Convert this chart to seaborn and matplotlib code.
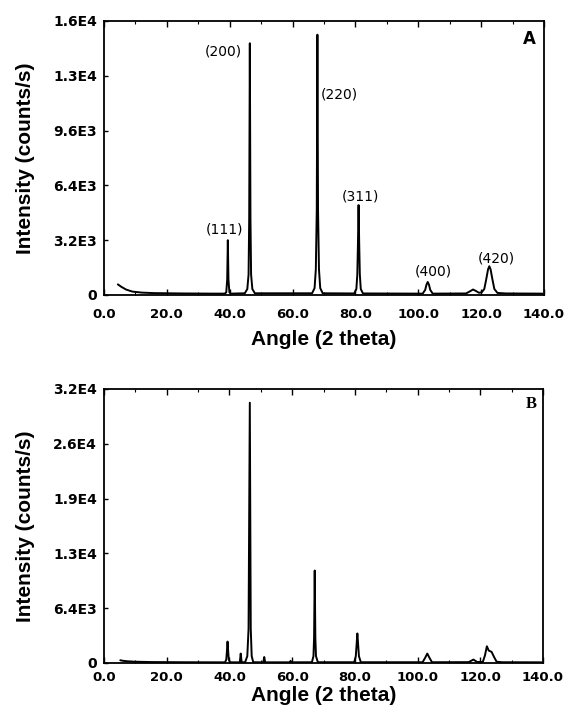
import matplotlib
matplotlib.use("Agg")
import matplotlib.pyplot as plt
import seaborn as sns
import pandas as pd

# ---- Panel A: diffractogram (angle in 2 theta, intensity in counts/s) ----
angle_a = [4.4, 5.5, 7.0, 9.0, 12.0, 16.0, 25.0, 35.0,
           38.4, 38.9, 39.2, 39.4, 39.6, 39.9, 40.4,
           44.8, 45.6, 46.0, 46.2, 46.4, 46.6, 46.8, 47.2, 48.0,
           66.2, 67.0, 67.4, 67.7, 67.9, 68.1, 68.4, 68.8, 69.6,
           79.6, 80.3, 80.6, 80.8, 81.0, 81.2, 81.4, 81.7, 82.4,
           101.4, 102.2, 102.6, 103.0, 103.4, 103.8, 104.6,
           115.2, 116.5, 117.4, 118.2, 119.3, 120.2,
           121.0, 121.6, 122.2, 122.6, 123.0, 123.6, 124.2, 125.2, 128.0, 139.5]
counts_a = [620, 480, 320, 200, 140, 110, 90, 80,
            80, 150, 900, 3200, 900, 150, 80,
            100, 350, 1200, 4500, 14700, 4500, 1200, 350, 100,
            100, 400, 1500, 5000, 15200, 5000, 1500, 400, 100,
            90, 350, 1200, 3000, 5250, 3000, 1200, 350, 90,
            80, 300, 600, 760, 600, 300, 80,
            90, 220, 320, 250, 130, 160,
            350, 900, 1500, 1680, 1500, 900, 350, 120, 90, 80]

# ---- Panel B ----
angle_b = [5.2, 6.0, 7.5, 10.0, 15.0, 25.0, 35.0,
           38.6, 39.0, 39.2, 39.4, 39.6, 39.8, 40.2,
           43.3, 43.6, 43.9,
           45.0, 45.7, 46.1, 46.5, 46.8, 47.1, 47.6,
           50.8, 51.1, 51.4,
           59.3, 59.5, 59.7,
           66.3, 66.8, 67.0, 67.2, 67.4, 67.6, 68.2,
           79.8, 80.3, 80.6, 80.8, 81.0, 81.3, 81.9,
           101.6, 102.4, 103.1, 103.8, 104.6,
           116.3, 117.8, 119.0,
           120.8, 121.5, 122.1, 122.7, 123.6, 124.4, 125.2, 127.0, 139.5]
counts_b = [320, 260, 200, 150, 110, 90, 80,
            80, 400, 1400, 2500, 1400, 400, 80,
            80, 1100, 80,
            90, 800, 4000, 30400, 4000, 800, 90,
            80, 700, 80,
            80, 250, 80,
            90, 800, 3000, 10800, 3000, 800, 90,
            90, 800, 2400, 3450, 2400, 800, 90,
            90, 600, 1100, 600, 90,
            100, 400, 120,
            120, 900, 1950, 1450, 1300, 700, 150, 90, 80]

# reflection labels for panel A
hkl_labels = ['(111)', '(200)', '(220)', '(311)', '(400)', '(420)']
hkl_x = [38.2, 37.9, 74.8, 81.5, 104.7, 124.7]
hkl_y = [3796, 14207, 11737, 5781, 1360, 2160]

x_ticks = [0, 20, 40, 60, 80, 100, 120, 140]
x_ticklabels = ['0.0', '20.0', '40.0', '60.0', '80.0', '100.0', '120.0', '140.0']
y_ticks_a = [0, 3200, 6400, 9600, 12800, 16000]
y_ticklabels_a = ['0', '3.2E3', '6.4E3', '9.6E3', '1.3E4', '1.6E4']
y_ticks_b = [0, 6400, 12800, 19200, 25600, 32000]
y_ticklabels_b = ['0', '6.4E3', '1.3E4', '1.9E4', '2.6E4', '3.2E4']

sns.set_style("ticks")
plt.rcParams['font.family'] = ['Liberation Sans', 'DejaVu Sans']
plt.rcParams['text.color'] = 'black'
plt.rcParams['axes.labelcolor'] = 'black'
plt.rcParams['xtick.color'] = 'black'
plt.rcParams['ytick.color'] = 'black'

df_a = pd.DataFrame({'angle': angle_a, 'counts': counts_a})
df_b = pd.DataFrame({'angle': angle_b, 'counts': counts_b})

fig = plt.figure(figsize=(5.66, 7.15), dpi=100)
ax1 = fig.add_axes([104/566, 1 - 295/715, 440/566, 274/715])
ax2 = fig.add_axes([104/566, 1 - 663/715, 439/566, 274/715])


def style_axes(ax, yticks, yticklabels, xpad):
    ax.set_xlim(0, 140)
    ax.set_ylim(yticks[0], yticks[-1])
    ax.set_xticks(x_ticks)
    ax.set_xticklabels(x_ticklabels, fontfamily='DejaVu Sans', fontweight='bold', fontsize=9.5)
    ax.set_yticks(yticks)
    ax.set_yticklabels(yticklabels, fontfamily='DejaVu Sans', fontweight='bold', fontsize=10)
    ax.set_xticks(range(0, 141, 10), minor=True)
    ax.tick_params(axis='x', which='major', direction='in', length=4, width=1, top=True, pad=xpad)
    ax.tick_params(axis='x', which='minor', direction='in', length=2, width=0.8, top=True)
    ax.tick_params(axis='y', which='major', direction='in', length=3, width=1, pad=5)
    for s in ax.spines.values():
        s.set_linewidth(1.3)
        s.set_color('black')
    ax.set_ylabel('Intensity (counts/s)', fontsize=15, fontweight='bold', labelpad=13)


sns.lineplot(data=df_a, x='angle', y='counts', ax=ax1, color='black', lw=1.4,
             estimator=None, sort=False)
sns.lineplot(data=df_b, x='angle', y='counts', ax=ax2, color='black', lw=1.4,
             estimator=None, sort=False)

style_axes(ax1, y_ticks_a, y_ticklabels_a, 9)
style_axes(ax2, y_ticks_b, y_ticklabels_b, 6)
ax1.set_xlabel('Angle (2 theta)', fontsize=15, fontweight='bold', labelpad=7)
ax2.set_xlabel('Angle (2 theta)', fontsize=15, fontweight='bold', labelpad=1)

for lab, lx, ly in zip(hkl_labels, hkl_x, hkl_y):
    ax1.text(lx, ly, lab, fontsize=10, ha='center', va='center', fontfamily='DejaVu Sans')

ax1.text(135.2, 14978, 'A', fontsize=12, fontweight='bold', ha='center', va='center',
         fontfamily=['Liberation Sans Narrow', 'DejaVu Sans'])
ax2.text(136.2, 30250, 'B', fontsize=12, fontweight='bold', ha='center', va='center',
         fontfamily=['Liberation Serif', 'DejaVu Serif'])

plt.savefig('out.png', dpi=100)
plt.close()
